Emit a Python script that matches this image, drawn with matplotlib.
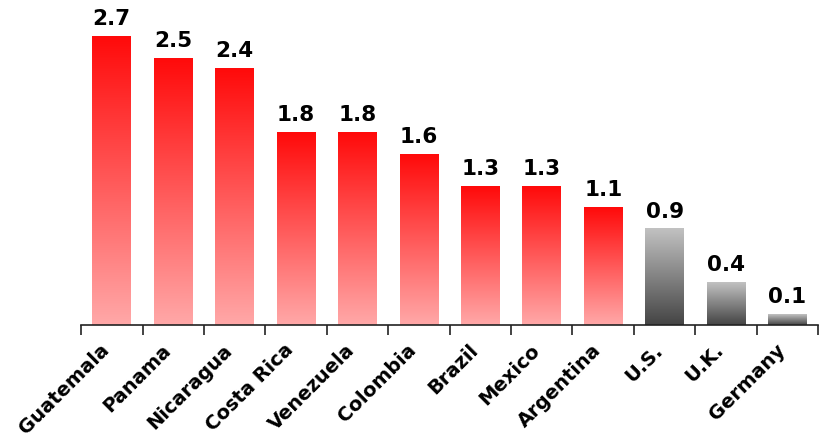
import numpy as np
import matplotlib.pyplot as plt
import matplotlib.transforms as mtransforms
from matplotlib.colors import LinearSegmentedColormap

countries = ["Guatemala", "Panama", "Nicaragua", "Costa Rica", "Venezuela", "Colombia",
             "Brazil", "Mexico", "Argentina", "U.S.", "U.K.", "Germany"]
values = [2.7, 2.5, 2.4, 1.8, 1.8, 1.6, 1.3, 1.3, 1.1, 0.9, 0.4, 0.1]
is_latam = [True] * 9 + [False] * 3

red_map = LinearSegmentedColormap.from_list("red", ["#ffa8a8", "#ff0a0a"])
gray_map = LinearSegmentedColormap.from_list("gray", ["#444444", "#c2c2c2"])

fig = plt.figure(figsize=(8.19, 4.40), dpi=100)
ax = fig.add_axes([0.099, 0.261, 0.900, 0.728])

x = np.arange(len(countries))
bars = ax.bar(x, values, width=0.63, color="none", edgecolor="none")

grad = np.linspace(0, 1, 256).reshape(-1, 1)
for bar, latam in zip(bars, is_latam):
    x0, y0 = bar.get_x(), bar.get_y()
    w, h = bar.get_width(), bar.get_height()
    ax.imshow(grad, cmap=red_map if latam else gray_map, origin="lower",
              extent=[x0, x0 + w, y0, y0 + h], aspect="auto", zorder=2)

for xi, v in zip(x, values):
    ax.text(xi, v + 0.07, f"{v:.1f}", ha="center", va="bottom",
            fontsize=15.5, fontweight="bold", color="black")

ax.set_xlim(-0.5, len(countries) - 0.5)
ax.set_ylim(0, 3.0)

for side in ["left", "right", "top"]:
    ax.spines[side].set_visible(False)
ax.spines["bottom"].set_color("#222222")
ax.spines["bottom"].set_linewidth(1.2)
ax.set_yticks([])

ax.set_xticks(x)
ax.set_xticklabels(countries, rotation=45, ha="right", rotation_mode="anchor",
                   fontsize=14, fontweight="bold")
ax.set_xticks(np.arange(len(countries) + 1) - 0.5, minor=True)
ax.tick_params(axis="x", which="major", length=0, pad=11)
ax.tick_params(axis="x", which="minor", length=7, width=1.2, color="#222222")

shift = mtransforms.ScaledTranslation(-12 / 100, 0, fig.dpi_scale_trans)
for lbl in ax.get_xticklabels():
    lbl.set_transform(lbl.get_transform() + shift)

fig.savefig("out.png", dpi=100)
